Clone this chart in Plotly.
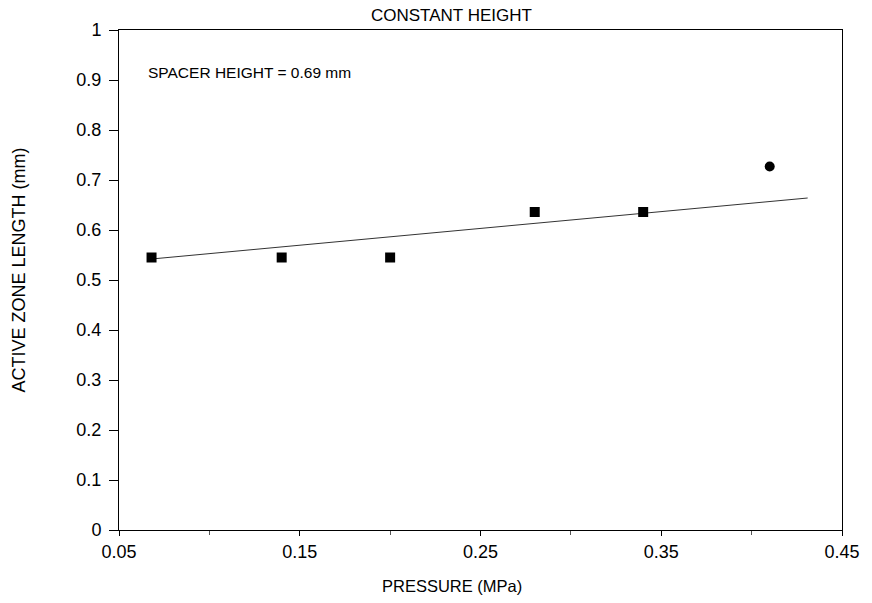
import plotly.graph_objects as go

# Data
pressure = [0.068, 0.14, 0.20, 0.28, 0.34, 0.41]
active_zone = [0.545, 0.545, 0.545, 0.636, 0.636, 0.727]
marker_symbols = ["square", "square", "square", "square", "square", "circle"]

fit_x = [0.068, 0.431]
fit_y = [0.542, 0.664]

x_ticks = [0.05, 0.15, 0.25, 0.35, 0.45]
x_tick_text = ["0.05", "0.15", "0.25", "0.35", "0.45"]
x_minor_ticks = [0.10, 0.20, 0.30, 0.40]
y_ticks = [0, 0.1, 0.2, 0.3, 0.4, 0.5, 0.6, 0.7, 0.8, 0.9, 1.0]
y_tick_text = ["0", "0.1", "0.2", "0.3", "0.4", "0.5", "0.6", "0.7", "0.8", "0.9", "1"]

FONT = "Liberation Sans, Arial, sans-serif"
W, H = 872, 603
L, R, T, B = 119, 26, 30, 73

fig = go.Figure()
fig.add_trace(go.Scatter(
    x=fit_x, y=fit_y, mode="lines",
    line=dict(color="#333333", width=1),
    showlegend=False, hoverinfo="skip",
))
fig.add_trace(go.Scatter(
    x=pressure, y=active_zone, mode="markers",
    marker=dict(symbol=marker_symbols, size=10, color="black",
                line=dict(width=0)),
    showlegend=False,
))

def px_x(px):
    return (px - L) / (W - L - R)

def px_y(py):
    return (H - B - py) / (H - T - B)

fig.update_layout(
    width=W, height=H,
    margin=dict(l=L, r=R, t=T, b=B),
    paper_bgcolor="white", plot_bgcolor="white",
    font=dict(family=FONT, color="black"),
    annotations=[
        dict(text="CONSTANT HEIGHT", xref="paper", yref="paper",
             x=px_x(453), y=px_y(16), xanchor="center", yanchor="middle",
             showarrow=False, font=dict(size=17, family=FONT)),
        dict(text="SPACER HEIGHT = 0.69 mm", xref="paper", yref="paper",
             x=px_x(146), y=px_y(73), xanchor="left", yanchor="middle",
             showarrow=False, font=dict(size=15.5, family=FONT)),
        dict(text="PRESSURE (MPa)", xref="paper", yref="paper",
             x=px_x(454), y=px_y(586), xanchor="center", yanchor="middle",
             showarrow=False, font=dict(size=16.5, family=FONT)),
        dict(text="ACTIVE ZONE LENGTH (mm)", xref="paper", yref="paper",
             x=px_x(18), y=px_y(270), xanchor="center", yanchor="middle",
             textangle=-90,
             showarrow=False, font=dict(size=18, family=FONT)),
    ],
)

fig.update_xaxes(
    range=[0.05, 0.45], tickvals=x_ticks, ticktext=x_tick_text,
    ticks="outside", ticklen=5, tickwidth=1, tickcolor="black",
    minor=dict(tickvals=x_minor_ticks, ticks="outside",
               ticklen=4, tickcolor="#555555"),
    showline=True, linecolor="black", linewidth=1, mirror=True,
    showgrid=False, zeroline=False,
    tickfont=dict(size=18, family=FONT),
)
fig.update_yaxes(
    range=[0, 1], tickvals=y_ticks, ticktext=y_tick_text,
    ticks="outside", ticklen=9, tickwidth=1, tickcolor="black",
    ticklabelstandoff=4,
    showline=True, linecolor="black", linewidth=1, mirror=True,
    showgrid=False, zeroline=False,
    tickfont=dict(size=18, family=FONT),
)

fig.write_html("out.html")
